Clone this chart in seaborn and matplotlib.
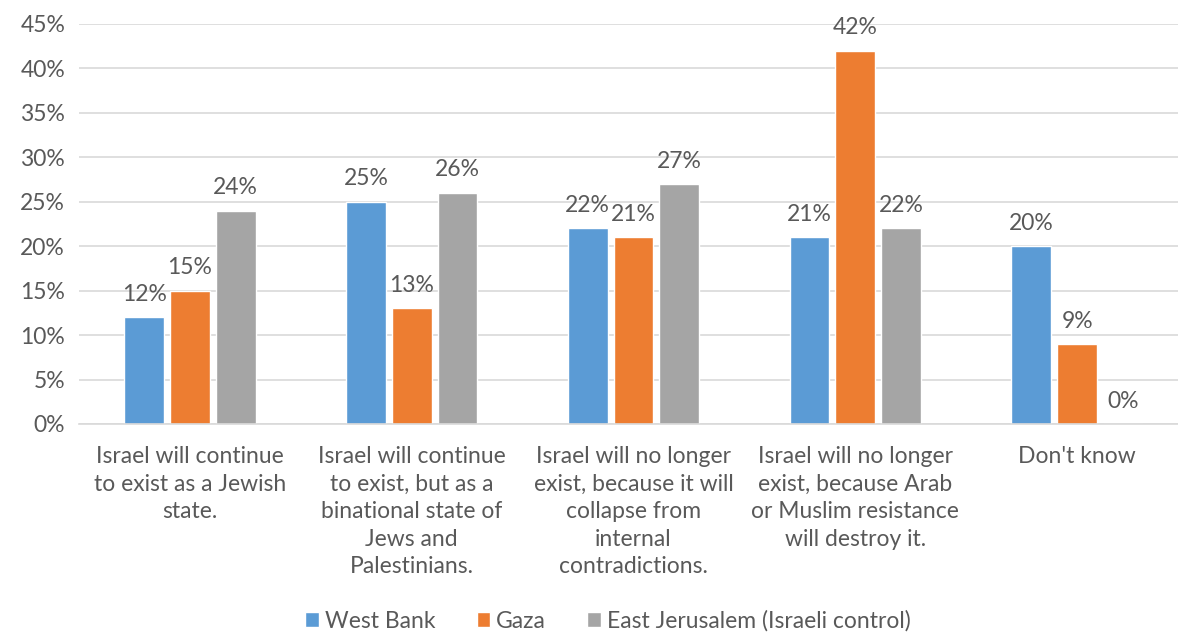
import matplotlib
matplotlib.use("Agg")
import matplotlib.pyplot as plt
import seaborn as sns
import pandas as pd
from matplotlib.patches import Patch

categories = [
    "Israel will continue\nto exist as a Jewish\nstate.",
    "Israel will continue\nto exist, but as a\nbinational state of\nJews and\nPalestinians.",
    "Israel will no longer\nexist, because it will\ncollapse from\ninternal\ncontradictions.",
    "Israel will no longer\nexist, because Arab\nor Muslim resistance\nwill destroy it.",
    "Don't know",
]
series = ["West Bank", "Gaza", "East Jerusalem (Israeli control)"]
west_bank = [12, 25, 22, 21, 20]
gaza = [15, 13, 21, 42, 9]
east_jerusalem = [24, 26, 27, 22, 0]
colors = ["#5B9BD5", "#ED7D31", "#A5A5A5"]

rows = []
for name, vals in zip(series, [west_bank, gaza, east_jerusalem]):
    for c, v in zip(categories, vals):
        rows.append({"cat": c, "series": name, "val": v})
df = pd.DataFrame(rows)

sns.set_style("white")
plt.rcParams["font.family"] = ["Lato", "DejaVu Sans"]
text_col = "#595959"
fs = 16.5

fig = plt.figure(figsize=(11.78, 6.32), dpi=100)
ax = fig.add_axes([79 / 1178, 208 / 632, 1.0 - 79 / 1178, 400 / 632])

sns.barplot(data=df, x="cat", y="val", hue="series", palette=colors,
            width=0.62, gap=0.13, ax=ax, legend=False, saturation=1)

for cont in ax.containers:
    ax.bar_label(cont, labels=[f"{v:.0f}%" for v in cont.datavalues],
                 padding=9, fontsize=fs, color=text_col)

ax.set_ylim(0, 45)
ax.set_xlim(-0.5, 4.5 - 10 / 222)
ax.set_yticks(range(0, 46, 5))
ax.set_yticklabels([f"{t}%" for t in range(0, 46, 5)])
ax.yaxis.grid(True, color="#D9D9D9", linewidth=1.2)
ax.set_axisbelow(True)
for s in ["top", "right", "left"]:
    ax.spines[s].set_visible(False)
ax.spines["bottom"].set_color("#D9D9D9")
ax.spines["bottom"].set_linewidth(1.2)
ax.tick_params(axis="both", length=0, labelsize=fs, colors=text_col)
ax.tick_params(axis="x", pad=16)
ax.tick_params(axis="y", pad=10)
for lab in ax.get_xticklabels():
    lab.set_linespacing(1.38)
    lab.set_verticalalignment("top")
ax.set_xlabel("")
ax.set_ylabel("")

handles = [Patch(facecolor=c) for c in colors]
fig.legend(handles, series, loc="center", bbox_to_anchor=(608 / 1178, 1 - 621 / 632),
           ncol=3, frameon=False, fontsize=fs, labelcolor=text_col,
           handlelength=0.6, handleheight=0.6, handletextpad=0.25, columnspacing=1.8)

fig.savefig("out.png", dpi=100)
